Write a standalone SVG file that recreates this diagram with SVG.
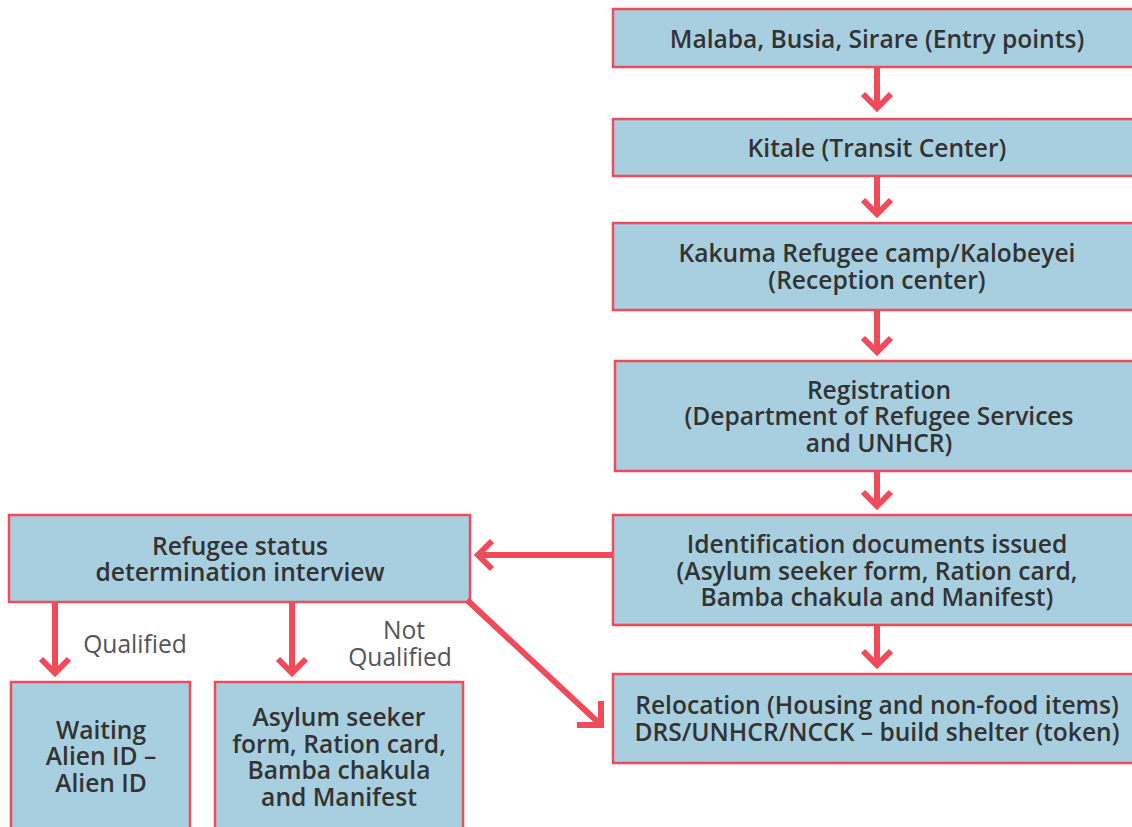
<svg xmlns="http://www.w3.org/2000/svg" width="1132" height="827" viewBox="0 0 1132 827">
<style>
.box{fill:#a8cfe0;stroke:#ef4b5a;stroke-width:2.5}
.t{font-family:"Open Sans","Liberation Sans",sans-serif;font-weight:600;font-size:24.6px;fill:#333;text-anchor:middle}
.lbl{font-family:"Open Sans","Liberation Sans",sans-serif;font-weight:400;font-size:24.6px;fill:#555;text-anchor:middle}
.c{fill:none;stroke:#ef4b5a;stroke-width:6;stroke-linejoin:miter;stroke-miterlimit:10}
</style>
<rect width="1132" height="827" fill="#fff"/>
<g id="n1"><rect class="box" x="613" y="9" width="530" height="58"/><text class="t" x="877" y="48">Malaba, Busia, Sirare (Entry points)</text></g>
<g id="n2"><rect class="box" x="613" y="119" width="530" height="57"/><text class="t" x="877" y="157">Kitale (Transit Center)</text></g>
<g id="n3"><rect class="box" x="613" y="223" width="530" height="87"/><text class="t" x="877" y="262">Kakuma Refugee camp/Kalobeyei</text><text class="t" x="877" y="289">(Reception center)</text></g>
<g id="n4"><rect class="box" x="615" y="361" width="528" height="110"/><text class="t" x="879" y="399">Registration</text><text class="t" x="879" y="425">(Department of Refugee Services</text><text class="t" x="879" y="452">and UNHCR)</text></g>
<g id="n5"><rect class="box" x="613" y="515" width="530" height="110"/><text class="t" x="877" y="553">Identification documents issued</text><text class="t" x="877" y="580">(Asylum seeker form, Ration card,</text><text class="t" x="877" y="606">Bamba chakula and Manifest)</text></g>
<g id="n6"><rect class="box" x="613" y="674" width="530" height="89"/><text class="t" x="877" y="714">Relocation (Housing and non-food items)</text><text class="t" x="877" y="741">DRS/UNHCR/NCCK – build shelter (token)</text></g>
<g id="n7"><rect class="box" x="9" y="515" width="461" height="87"/><text class="t" x="240" y="555">Refugee status</text><text class="t" x="240" y="581">determination interview</text></g>
<g id="n8"><rect class="box" x="11" y="682" width="179" height="160"/><text class="t" x="101" y="739">Waiting</text><text class="t" x="101" y="765">Alien ID –</text><text class="t" x="101" y="792">Alien ID</text></g>
<g id="n9"><rect class="box" x="215" y="682" width="248" height="160"/><text class="t" x="339" y="726">Asylum seeker</text><text class="t" x="339" y="753">form, Ration card,</text><text class="t" x="339" y="779">Bamba chakula</text><text class="t" x="339" y="806">and Manifest</text></g>
<g id="connectors">
<path class="c" d="M877 67V108M863 94L877 108L891 94"/>
<path class="c" d="M877 176V214M863 200L877 214L891 200"/>
<path class="c" d="M877 310V352M863 338L877 352L891 338"/>
<path class="c" d="M877 471V506M863 492L877 506L891 492"/>
<path class="c" d="M877 625V665M863 651L877 665L891 651"/>
<path class="c" d="M613 555H478M492 541L478 555L492 569"/>
<path class="c" d="M467 600L601 725M601 701V725H577"/>
<path class="c" d="M55 602V673M41 659L55 673L69 659"/>
<path class="c" d="M292 602V673M278 659L292 673L306 659"/>
<text class="lbl" x="135" y="653">Qualified</text>
<text class="lbl" x="404" y="639">Not</text>
<text class="lbl" x="400" y="666">Qualified</text>
</g>
</svg>
